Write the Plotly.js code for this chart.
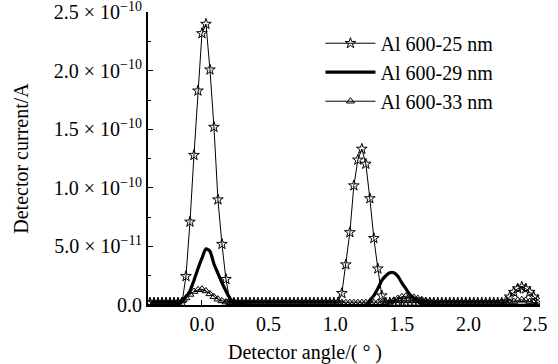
<!DOCTYPE html>
<html>
<head>
<meta charset="utf-8">
<script src="https://cdn.plot.ly/plotly-3.0.1.min.js"></script>
<style>html,body{margin:0;padding:0;background:#fff;}#chart{width:558px;height:364px;}</style>
</head>
<body>
<div id="chart"></div>
<script>
// Detector angle grid (degrees) shared by the marker series
const angle = [-0.39,-0.36,-0.33,-0.30,-0.27,-0.24,-0.21,-0.18,-0.15,-0.12,-0.09,-0.06,-0.03,0.00,0.03,0.06,0.09,0.12,0.15,0.18,
  0.21,0.24,0.27,0.30,0.33,0.36,0.39,0.42,0.45,0.48,0.51,0.54,0.57,0.60,0.63,0.66,0.69,0.72,0.75,0.78,
  0.81,0.84,0.87,0.90,0.93,0.96,0.99,1.02,1.05,1.08,1.11,1.14,1.17,1.20,1.23,1.26,1.29,1.32,1.35,1.38,
  1.41,1.44,1.47,1.50,1.53,1.56,1.59,1.62,1.65,1.68,1.71,1.74,1.77,1.80,1.83,1.86,1.89,1.92,1.95,1.98,
  2.01,2.04,2.07,2.10,2.13,2.16,2.19,2.22,2.25,2.28,2.31,2.34,2.37,2.40,2.43,2.46,2.49,2.52];

// Al 600-25 nm (A)
const current25 = [2e-12,2e-12,2e-12,2e-12,2e-12,2e-12,2e-12,2e-12,2e-12,2.45e-11,7.1e-11,1.28e-10,1.83e-10,2.32e-10,2.40e-10,2.01e-10,1.52e-10,9.0e-11,5.2e-11,2.2e-11,
  3e-12,2e-12,2e-12,2e-12,2e-12,2e-12,2e-12,2e-12,2e-12,2e-12,2e-12,2e-12,2e-12,2e-12,2e-12,2e-12,2e-12,2e-12,2e-12,2e-12,
  2e-12,2e-12,2e-12,2e-12,2e-12,2e-12,2e-12,2e-12,1.0e-11,3.45e-11,6.2e-11,1.02e-10,1.24e-10,1.333e-10,1.205e-10,9.1e-11,5.7e-11,3.1e-11,8e-12,2e-12,
  2e-12,2e-12,2e-12,2e-12,2e-12,2e-12,2e-12,2e-12,2e-12,2e-12,2e-12,2e-12,2e-12,2e-12,2e-12,2e-12,2e-12,2e-12,2e-12,2e-12,
  2e-12,2e-12,2e-12,2e-12,2e-12,2e-12,2e-12,2e-12,2e-12,3e-12,7e-12,1.1e-11,1.4e-11,1.55e-11,1.4e-11,1.1e-11,7e-12,4e-12];

// Al 600-33 nm (A)
const current33 = [2e-12,2e-12,2e-12,2e-12,2e-12,2e-12,2e-12,2.5e-12,3.5e-12,6e-12,9e-12,1.15e-11,1.3e-11,1.35e-11,1.2e-11,9.5e-12,7e-12,5e-12,3.5e-12,2.5e-12,
  2e-12,2e-12,2e-12,2e-12,2e-12,2e-12,2e-12,2e-12,2e-12,2e-12,2e-12,2e-12,2e-12,2e-12,2e-12,2e-12,2e-12,2e-12,2e-12,2e-12,
  2e-12,2e-12,2e-12,2e-12,2e-12,2e-12,2e-12,2e-12,2e-12,2e-12,2e-12,2e-12,2e-12,2e-12,2e-12,2e-12,2e-12,2e-12,2e-12,2e-12,
  2.5e-12,4e-12,5.5e-12,7e-12,7.5e-12,7.5e-12,6.5e-12,5.5e-12,4.5e-12,3.5e-12,3e-12,2.5e-12,2e-12,2e-12,2e-12,2e-12,2e-12,2e-12,2e-12,2e-12,
  2e-12,2e-12,2e-12,2e-12,2e-12,2e-12,2e-12,2e-12,2e-12,2e-12,2e-12,3e-12,4e-12,4.5e-12,4e-12,3e-12,2e-12,2e-12];

// Al 600-29 nm (A), solid line
const angle29 = [-0.39,-0.21,-0.18,-0.15,-0.12,-0.09,-0.06,-0.03,0.00,0.03,0.06,0.09,0.12,0.15,0.18,0.21,0.24,0.27,
  1.23,1.26,1.29,1.32,1.35,1.38,1.41,1.44,1.47,1.50,1.53,1.56,1.59,1.62,1.65,1.68,2.52];
const current29 = [0,0,1e-12,3e-12,7e-12,1.2e-11,2.1e-11,3.1e-11,4.0e-11,4.8e-11,4.6e-11,3.5e-11,2.7e-11,1.9e-11,1.2e-11,5.5e-12,2e-12,5e-13,
  0,4e-12,8e-12,1.4e-11,2.1e-11,2.5e-11,2.75e-11,2.75e-11,2.45e-11,1.9e-11,1.4e-11,9e-12,6e-12,3e-12,1e-12,0,0];

const seriesNames = ['Al 600-25 nm','Al 600-29 nm','Al 600-33 nm'];
const yTickVals = [0,5e-11,1e-10,1.5e-10,2e-10,2.5e-10];
const yTickText = ['0.0','5.0 × 10<sup>−11</sup>','1.0 × 10<sup>−10</sup>','1.5 × 10<sup>−10</sup>','2.0 × 10<sup>−10</sup>','2.5 × 10<sup>−10</sup>'];
const xTickVals = [0,0.5,1.0,1.5,2.0,2.5];
const xTickText = ['0.0','0.5','1.0','1.5','2.0','2.5'];
const xTitle = 'Detector angle/( ° )';
const yTitle = 'Detector current/A';

const FONT = 'Liberation Serif, Times New Roman, serif';

const traces = [
  {x: angle, y: current25, name: seriesNames[0], type: 'scatter', mode: 'lines+markers',
   line: {color: '#000', width: 1},
   marker: {symbol: 'star-open', size: 8, color: '#000', line: {color: '#000', width: 1}}},
  {x: angle29, y: current29, name: seriesNames[1], type: 'scatter', mode: 'lines',
   line: {color: '#000', width: 3.2, shape: 'spline', smoothing: 0.6}},
  {x: angle, y: current33, name: seriesNames[2], type: 'scatter', mode: 'lines+markers',
   line: {color: '#000', width: 1},
   marker: {symbol: 'triangle-up-open', size: 7, color: '#000', line: {color: '#000', width: 1}}}
];

const layout = {
  width: 558, height: 364,
  margin: {l: 148, r: 18, t: 12, b: 59},
  paper_bgcolor: '#fff', plot_bgcolor: '#fff',
  font: {family: FONT, size: 20, color: '#000'},
  showlegend: true,
  legend: {x: 0.44, y: 0.96, xanchor: 'left', yanchor: 'top', bgcolor: 'rgba(0,0,0,0)',
           font: {family: FONT, size: 20, color: '#000'}, itemwidth: 50, tracegroupgap: 0},
  xaxis: {range: [-0.405, 2.537], showline: true, linewidth: 2, linecolor: '#000',
          ticks: 'inside', ticklen: 5, tickwidth: 1, tickcolor: '#000',
          tickvals: xTickVals, ticktext: xTickText, showgrid: false, zeroline: false,
          minor: {ticks: 'inside', ticklen: 3, tickwidth: 1, tickcolor: '#000', dtick: 0.25, tick0: 0},
          tickfont: {family: FONT, size: 20}},
  yaxis: {range: [0, 2.503e-10], showline: true, linewidth: 2, linecolor: '#000',
          ticks: 'inside', ticklen: 5, tickwidth: 1, tickcolor: '#000',
          tickvals: yTickVals, ticktext: yTickText, showgrid: false, zeroline: false,
          ticklabeloverflow: 'allow',
          minor: {ticks: 'inside', ticklen: 3, tickwidth: 1, tickcolor: '#000', dtick: 2.5e-11, tick0: 0},
          tickfont: {family: FONT, size: 20},
          title: {text: yTitle, font: {family: FONT, size: 20}, standoff: 20}},
  annotations: [
    {text: xTitle, xref: 'paper', yref: 'paper', x: 0.40, y: 0, yshift: -47,
     xanchor: 'center', yanchor: 'middle', showarrow: false, font: {family: FONT, size: 20}}
  ]
};

Plotly.newPlot('chart', traces, layout, {displayModeBar: false, staticPlot: true});
</script>
</body>
</html>
